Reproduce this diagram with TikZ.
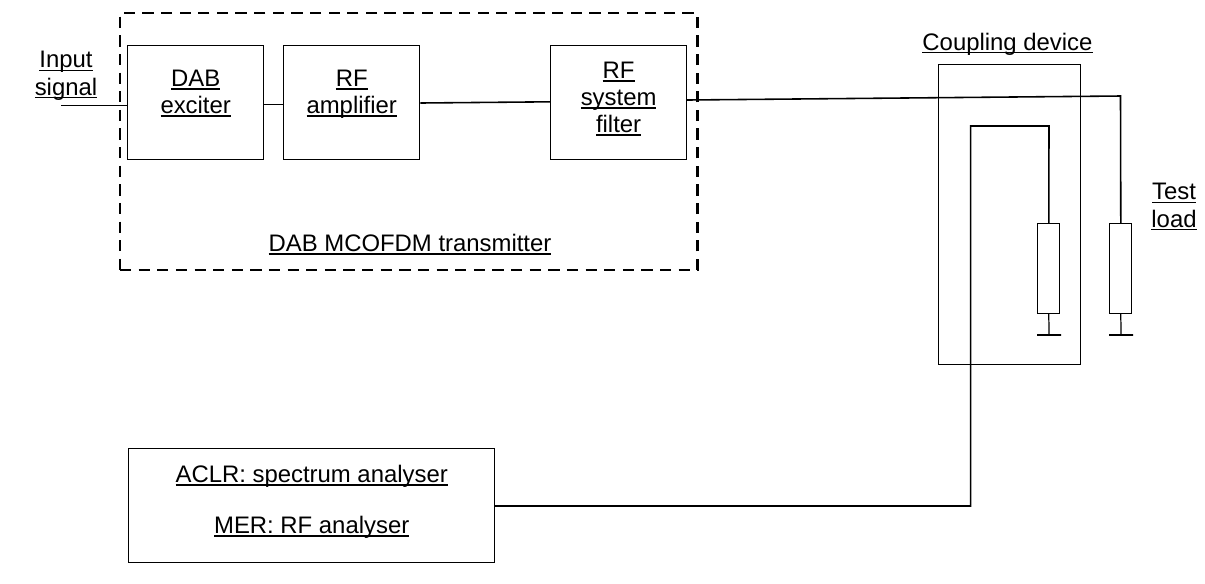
\documentclass[tikz,border=0pt]{standalone}
\usepackage{fontspec}
\setmainfont{Liberation Sans}
\usepackage{xcolor}
\usepackage{tikz}
\usetikzlibrary{shapes,positioning,calc}

% underline at a fixed depth, descenders cross it as in a word processor
\newcommand{\ultext}[1]{\setbox0=\hbox{#1}\rlap{\rule[-1.9pt]{\wd0}{0.8pt}}\box0}

\tikzset{
    blockbox/.style={draw, line width=0.6pt, inner sep=0pt},
    dashbox/.style={draw, line width=1.3pt, inner sep=0pt, dash pattern=on 6.4pt off 4.2pt},
    resistor/.style={blockbox, minimum width=0.44cm, minimum height=1.8cm},
    groundbar/.style={draw, line width=0.8pt, inner sep=0pt, minimum width=0.48cm, minimum height=0pt},
    wire/.style={line width=0.9pt, line join=miter},
    stub/.style={line width=0.7pt},
    textlabel/.style={inner sep=0pt, anchor=base, align=center, font=\fontsize{13.6}{15.4}\selectfont}
}

\begin{document}
\begin{tikzpicture}[x=0.02cm, y=-0.02cm]
    \useasboundingbox (0,0) rectangle (1205,583);

    % transmitter
    \node[dashbox, minimum width=11.55cm, minimum height=5.14cm] (txgroup) at (408.7,141.5) {};
    \node[blockbox, minimum width=2.72cm, minimum height=2.29cm] (dab) at (195.9,102.7) {};
    \node[blockbox, minimum width=2.73cm, minimum height=2.29cm] (rfamp) at (351.7,102.7) {};
    \node[blockbox, minimum width=2.72cm, minimum height=2.29cm] (rffilter) at (618.6,102.7) {};

    \node[textlabel] (inputlabel) at (66,95) {\ultext{Input}\\\ultext{signal}};
    \node[textlabel] (dablabel) at (195.7,113.5) {\ultext{DAB}\\\ultext{exciter}};
    \node[textlabel] (amplabel) at (351.7,113.5) {\ultext{RF}\\\ultext{amplifier}};
    \node[textlabel] (filterlabel) at (618.6,132.5) {\ultext{RF}\\\ultext{system}\\\ultext{filter}};
    \node[textlabel] (txlabel) at (410,251.5) {\ultext{DAB MCOFDM transmitter}};

    % coupling device and loads
    \node[blockbox, minimum width=2.84cm, minimum height=6.01cm] (coupler) at (1009.7,214.5) {};
    \node[textlabel] (couplerlabel) at (1007.5,50) {\ultext{Coupling device}};
    \node[resistor] (rsense) at (1048.8,268.3) {};
    \node[resistor] (rload) at (1120.8,268.3) {};
    \node[groundbar] (gndsense) at (1049,335) {};
    \node[groundbar] (gndload) at (1121,335) {};
    \node[textlabel] (loadlabel) at (1174,227) {\ultext{Test}\\\ultext{load}};

    % analyser
    \node[blockbox, minimum width=7.32cm, minimum height=2.28cm] (analyser) at (311.6,505.5) {};
    \node[textlabel] (aclrlabel) at (311.7,482.5) {\ultext{ACLR: spectrum analyser}};
    \node[textlabel] (merlabel) at (311.7,533.5) {\ultext{MER: RF analyser}};

    \coordinate (inputend) at (61,105.5);
    \coordinate (loadcorner) at (1120.5,96);
    \coordinate (sensecorner) at (1049,126);
    \coordinate (analysercorner) at (970.7,126);

    \draw[wire] (inputend) -- (dab.west |- inputend);
    \draw[stub] (dab.east |- 0,104.5) -- (rfamp.west |- 0,104.5);
    \draw[wire] (rfamp.east |- 0,103) -- (rffilter.west |- 0,101.8);
    \draw[wire] (rffilter.east |- 0,100) -- (loadcorner) -- (rload.north);
    \draw[wire] (rsense.north) -- (sensecorner) -- (analysercorner) -- (analysercorner |- 0,506) -- (analyser.east |- 0,506);
    \draw[stub] (rsense.south) -- (gndsense.center);
    \draw[stub] (rload.south) -- (gndload.center);
\end{tikzpicture}
\end{document}
